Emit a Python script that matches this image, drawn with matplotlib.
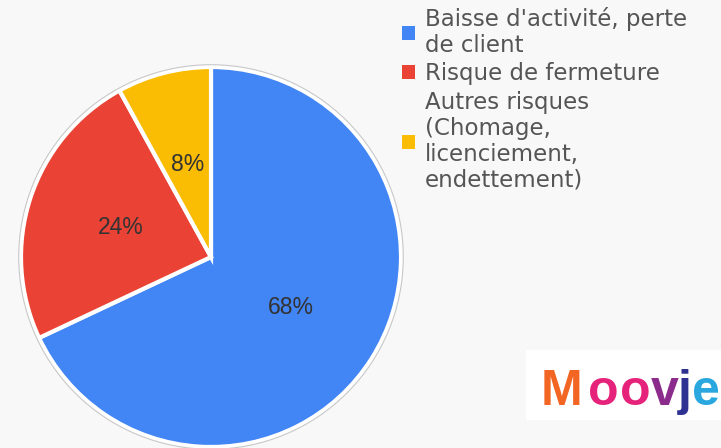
import matplotlib
matplotlib.use("Agg")
import matplotlib.pyplot as plt
from matplotlib.patches import Rectangle, Circle

labels = ["Baisse d'activité, perte\nde client", "Risque de fermeture",
          "Autres risques\n(Chomage,\nlicenciement,\nendettement)"]
values = [68, 24, 8]
colors = ["#4285F4", "#EA4335", "#FBBC04"]

logo_letters = ["M", "o", "o", "v", "j", "e"]
logo_colors = ["#F26522", "#E6237A", "#E6237A", "#8B2C8C", "#2E3192", "#2AA7DF"]

W, H = 721, 448
bg = "#f8f8f8"
fig = plt.figure(figsize=(W / 100, H / 100), dpi=100, facecolor=bg)

cx, cy, r = 211, 448 - 257, 190
ax = fig.add_axes([(cx - r) / W, (cy - r) / H, 2 * r / W, 2 * r / H])
ax.set_facecolor(bg)

wedges, texts, autotexts = ax.pie(
    values, colors=colors, startangle=90, counterclock=False,
    autopct=lambda p: f"{p:.0f}%", pctdistance=0.5, radius=1.0,
    wedgeprops=dict(edgecolor="white", linewidth=3),
    textprops=dict(color="#333333", fontsize=16.5, family="Liberation Sans"))
ax.set_xlim(-1, 1)
ax.set_ylim(-1, 1)
ax.set_aspect("equal")
ax.axis("off")
for w in wedges:
    w.set_clip_on(False)
outer = Circle((0, 0), 1.012, facecolor="none", edgecolor="#c8c8c8", lw=0.8, clip_on=False)
ax.add_patch(outer)

leg = fig.legend(wedges, labels, loc="upper left",
                 bbox_to_anchor=(402 / W, 1 - 7 / H), frameon=False,
                 prop=dict(family="DejaVu Sans", size=16.5),
                 labelcolor="#555555", handlelength=0.55, handleheight=0.55,
                 handletextpad=0.45, labelspacing=0.25, borderaxespad=0, borderpad=0)
for t in leg.get_texts():
    t.set_linespacing(1.15)
for h in leg.legend_handles:
    h.set_edgecolor("white")
    h.set_linewidth(0)

# logo
fig.patches.append(Rectangle((526 / W, (448 - 420) / H), (W - 526) / W, 70 / H,
                             transform=fig.transFigure, facecolor="white", edgecolor="none"))
centers = [562, 603, 635, 665, 685, 706]
for ch, col, xc in zip(logo_letters, logo_colors, centers):
    fig.text(xc / W, (448 - 405) / H, ch, color=col, fontsize=36, fontweight="bold",
             family="Liberation Sans", ha="center", va="baseline")

fig.savefig("out.png", dpi=100, facecolor=bg)
